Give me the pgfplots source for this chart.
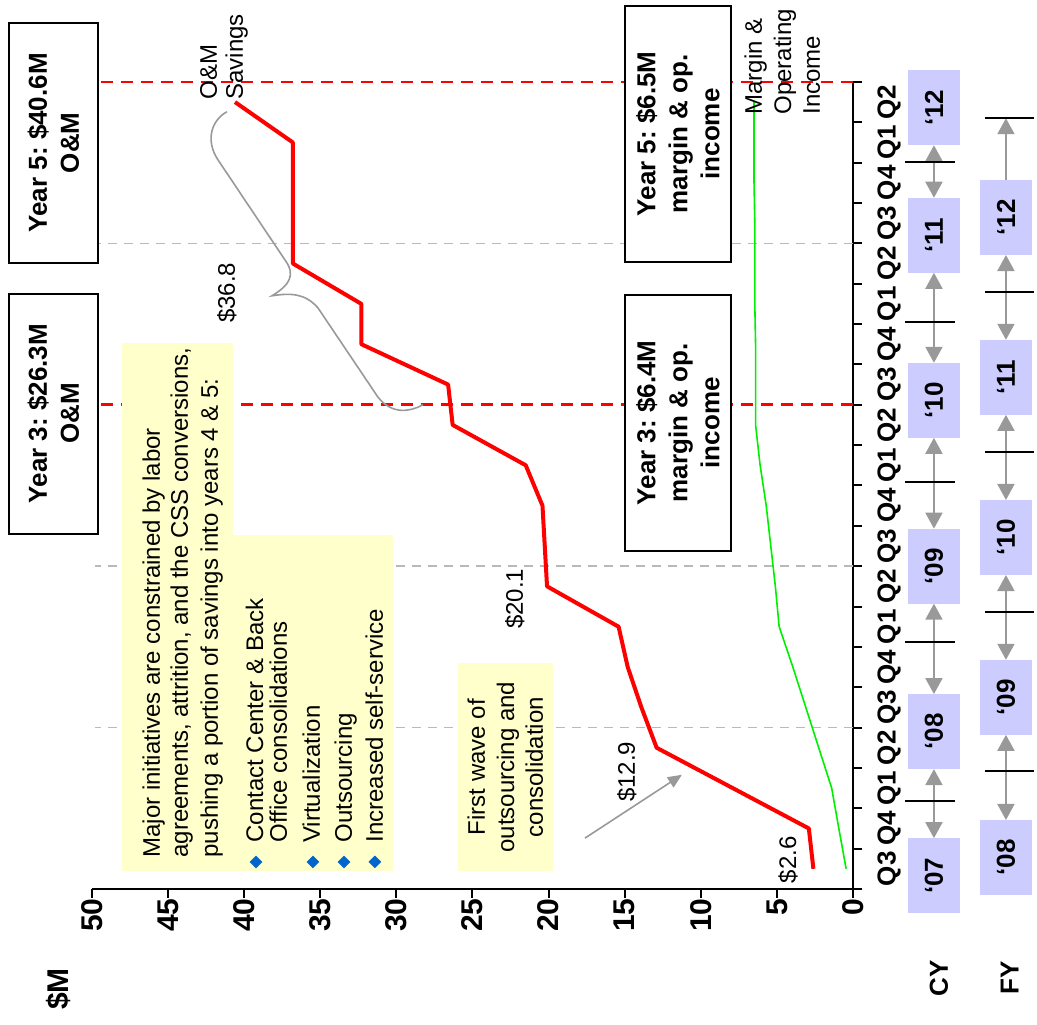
\documentclass[border=0pt]{standalone}
\usepackage{fontspec}
\setmainfont{Liberation Sans}
\usepackage{pgfplots}
\pgfplotsset{compat=1.18}
\usetikzlibrary{arrows.meta,shapes.geometric}

\definecolor{omred}{RGB}{255,0,0}
\definecolor{mgreen}{RGB}{0,240,0}
\definecolor{dashgrey}{RGB}{185,185,185}
\definecolor{notefill}{RGB}{255,255,204}
\definecolor{yearfill}{RGB}{204,204,255}
\definecolor{arrowgrey}{RGB}{153,153,153}
\definecolor{bulletblue}{RGB}{0,102,204}

\newcommand\boxfont{\bfseries\fontsize{13}{16}\selectfont}
\newcommand\notefont{\fontsize{12}{14.5}\selectfont}
\newcommand\tickfont{\bfseries\fontsize{15}{15}\selectfont}
\newcommand\qfont{\bfseries\fontsize{13}{13}\selectfont}
\frenchspacing

\tikzset{
  vtext/.style={rotate=90, inner sep=0pt},
  yearbox/.style={fill=yearfill, draw=none},
  span/.style={arrowgrey, line width=1pt, {Triangle[length=8pt,width=8.5pt]}-{Triangle[length=8pt,width=8.5pt]}},
  yearline/.style={black, line width=1pt},
}

\begin{document}
\begin{tikzpicture}
\begin{axis}[
  scale only axis, width=380.5pt, height=403.5pt,
  xmin=0, xmax=50, ymin=0, ymax=20,
  x dir=reverse,
  axis x line=bottom, axis y line=right,
  axis line style={line width=1pt, -},
  xtick={0,5,...,50},
  ytick=\empty,
  xtick align=outside,
  major tick length=4.5pt,
  tick style={line width=1pt, black},
  /pgf/number format/assume math mode=true,
  xticklabel style={rotate=90, anchor=east, inner sep=0pt, font=\tickfont},
  clip=false,
]

% quarter and year guide lines
\draw[dashgrey, line width=0.8pt, dash pattern=on 4.5pt off 3.5pt] (axis cs:0,4) -- (axis cs:49.8,4);
\draw[dashgrey, line width=0.8pt, dash pattern=on 4.5pt off 3.5pt] (axis cs:0,8) -- (axis cs:49.8,8);
\draw[dashgrey, line width=0.8pt, dash pattern=on 4.5pt off 3.5pt] (axis cs:0,16) -- (axis cs:49.8,16);
\draw[omred, line width=1.3pt, dash pattern=on 6pt off 4pt] (axis cs:0,12) -- (axis cs:49.6,12);
\draw[omred, line width=1.3pt, dash pattern=on 6pt off 4pt] (axis cs:0,20) -- (axis cs:49.6,20);

% quarter boundary ticks on the time axis
\pgfplotsinvokeforeach{0,...,20}{
  \draw[black, line width=1pt] (axis cs:0,#1) -- ++(4.5pt,0);
}

% note backgrounds
\fill[notefill] (axis cs:48.03,0.446) rectangle (axis cs:40.74,13.53);
\fill[notefill] (axis cs:40.74,0.446) rectangle (axis cs:30.22,8.77);
\fill[notefill] (axis cs:25.95,0.446) rectangle (axis cs:19.71,5.60);

% summary boxes
\draw[line width=1.2pt, fill=white] (axis cs:55.45,15.51) rectangle (axis cs:49.6,21.46);
\draw[line width=1.2pt, fill=white] (axis cs:55.45,8.80) rectangle (axis cs:49.6,14.75);
\draw[line width=1.2pt, fill=white] (axis cs:14.98,15.54) rectangle (axis cs:8.02,21.88);
\draw[line width=1.2pt, fill=white] (axis cs:14.98,8.38) rectangle (axis cs:8.02,14.72);
\node[vtext, align=center, font=\boxfont] at (axis cs:52.53,18.49) {Year 5: \$40.6M\\O\&M};
\node[vtext, align=center, font=\boxfont] at (axis cs:52.53,11.78) {Year 3: \$26.3M\\O\&M};
\node[vtext, align=center, font=\boxfont] at (axis cs:11.5,18.71) {Year 5: \$6.5M\\margin \& op.\\income};
\node[vtext, align=center, font=\boxfont] at (axis cs:11.5,11.55) {Year 3: \$6.4M\\margin \& op.\\income};

% cumulative O&M savings ($M) by quarter
\addplot[omred, line width=2pt, line join=round] coordinates {
  (2.6,0.5) (2.9,1.5) (7.9,2.5) (12.9,3.5) (13.9,4.5) (14.8,5.5) (15.4,6.5)
  (20.1,7.5) (20.25,8.5) (20.4,9.5) (21.5,10.5) (26.3,11.5) (26.6,12.5)
  (32.3,13.5) (32.3,14.5) (36.8,15.5) (36.8,16.5) (36.8,17.5) (36.8,18.5)
  (40.6,19.5)
};
% cumulative margin and operating income ($M) by quarter
\addplot[mgreen, line width=0.8pt, line join=round] coordinates {
  (0.45,0.5) (0.93,1.5) (1.4,2.5) (2.25,3.5) (3.1,4.5) (3.95,5.5) (4.85,6.5)
  (5.1,7.5) (5.4,8.5) (5.7,9.5) (6.1,10.5) (6.4,11.5) (6.4,12.5) (6.4,13.5)
  (6.45,14.5) (6.45,15.5) (6.45,16.5) (6.5,17.5) (6.5,18.5) (6.5,19.5)
};

% value call-outs
\node[vtext, font=\notefont] at (axis cs:4.27,0.72) {\$2.6};
\node[vtext, font=\notefont] at (axis cs:14.85,2.90) {\$12.9};
\node[vtext, font=\notefont] at (axis cs:22.21,7.19) {\$20.1};
\node[vtext, font=\notefont] at (axis cs:41.13,14.77) {\$36.8};
\draw[arrowgrey, line width=0.8pt, -{Triangle[length=7pt,width=6pt]}] (axis cs:17.61,1.26) -- (axis cs:11.24,2.83);
\draw[arrowgrey, line width=0.8pt]
  (axis cs:28.25,12.0) .. controls (axis cs:29.11,11.82) and (axis cs:30.29,11.75) .. (axis cs:31.21,12.19)
  -- (axis cs:35.15,14.40) .. controls (axis cs:36.0,14.77) and (axis cs:36.99,14.77) .. (axis cs:38.17,14.70)
  .. controls (axis cs:36.99,14.97) and (axis cs:36.60,15.22) .. (axis cs:37.32,15.59)
  -- (axis cs:41.72,18.07) .. controls (axis cs:42.58,18.56) and (axis cs:42.12,19.06) .. (axis cs:41.13,19.26);

% series names
\node[vtext, anchor=base west, font=\notefont] at (axis cs:41.79,19.55) {O\&M};
\node[vtext, anchor=base west, font=\notefont] at (axis cs:40.08,19.55) {Savings};
\node[vtext, anchor=base west, font=\notefont] at (axis cs:5.98,19.18) {Margin \&};
\node[vtext, anchor=base west, font=\notefont] at (axis cs:4.07,19.18) {Operating};
\node[vtext, anchor=base west, font=\notefont] at (axis cs:2.17,19.18) {Income};

% initiative notes
\node[vtext, anchor=base west, font=\notefont] at (axis cs:45.53,0.77) {Major initiatives are constrained by labor};
\node[vtext, anchor=base west, font=\notefont] at (axis cs:43.69,0.77) {agreements, attrition, and the CSS conversions,};
\node[vtext, anchor=base west, font=\notefont] at (axis cs:41.72,0.77) {pushing a portion of savings into years 4 \& 5:};
\node[vtext, anchor=base west, font=\notefont] at (axis cs:38.76,1.14) {Contact Center \& Back};
\node[vtext, anchor=base west, font=\notefont] at (axis cs:37.19,1.14) {Office consolidations};
\node[vtext, anchor=base west, font=\notefont] at (axis cs:35.02,1.14) {Virtualization};
\node[vtext, anchor=base west, font=\notefont] at (axis cs:32.92,1.14) {Outsourcing};
\node[vtext, anchor=base west, font=\notefont] at (axis cs:30.88,1.14) {Increased self-service};
\node[diamond, fill=bulletblue, inner sep=0pt, minimum width=6.5pt, minimum height=6.5pt] at (axis cs:39.22,0.67) {};
\node[diamond, fill=bulletblue, inner sep=0pt, minimum width=6.5pt, minimum height=6.5pt] at (axis cs:35.48,0.67) {};
\node[diamond, fill=bulletblue, inner sep=0pt, minimum width=6.5pt, minimum height=6.5pt] at (axis cs:33.44,0.67) {};
\node[diamond, fill=bulletblue, inner sep=0pt, minimum width=6.5pt, minimum height=6.5pt] at (axis cs:31.41,0.67) {};
\node[vtext, anchor=base, font=\notefont] at (axis cs:24.18,3.02) {First wave of};
\node[vtext, anchor=base, font=\notefont] at (axis cs:22.27,3.02) {outsourcing and};
\node[vtext, anchor=base, font=\notefont] at (axis cs:20.37,3.02) {consolidation};

% quarter labels
\node[vtext, font=\qfont] at (axis cs:-2.37,0.5) {Q3};
\node[vtext, font=\qfont] at (axis cs:-2.37,1.5) {Q4};
\node[vtext, font=\qfont] at (axis cs:-2.37,2.5) {Q1};
\node[vtext, font=\qfont] at (axis cs:-2.37,3.5) {Q2};
\node[vtext, font=\qfont] at (axis cs:-2.37,4.5) {Q3};
\node[vtext, font=\qfont] at (axis cs:-2.37,5.5) {Q4};
\node[vtext, font=\qfont] at (axis cs:-2.37,6.5) {Q1};
\node[vtext, font=\qfont] at (axis cs:-2.37,7.5) {Q2};
\node[vtext, font=\qfont] at (axis cs:-2.37,8.5) {Q3};
\node[vtext, font=\qfont] at (axis cs:-2.37,9.5) {Q4};
\node[vtext, font=\qfont] at (axis cs:-2.37,10.5) {Q1};
\node[vtext, font=\qfont] at (axis cs:-2.37,11.5) {Q2};
\node[vtext, font=\qfont] at (axis cs:-2.37,12.5) {Q3};
\node[vtext, font=\qfont] at (axis cs:-2.37,13.5) {Q4};
\node[vtext, font=\qfont] at (axis cs:-2.37,14.5) {Q1};
\node[vtext, font=\qfont] at (axis cs:-2.37,15.5) {Q2};
\node[vtext, font=\qfont] at (axis cs:-2.37,16.5) {Q3};
\node[vtext, font=\qfont] at (axis cs:-2.37,17.5) {Q4};
\node[vtext, font=\qfont] at (axis cs:-2.37,18.5) {Q1};
\node[vtext, font=\qfont] at (axis cs:-2.37,19.5) {Q2};

% calendar years
\fill[yearbox] (axis cs:-3.61,-0.60) rectangle (axis cs:-7.03,1.26);
\fill[yearbox] (axis cs:-3.61,2.97) rectangle (axis cs:-7.03,4.83);
\fill[yearbox] (axis cs:-3.61,7.07) rectangle (axis cs:-7.03,8.93);
\fill[yearbox] (axis cs:-3.61,11.18) rectangle (axis cs:-7.03,13.04);
\fill[yearbox] (axis cs:-3.61,15.27) rectangle (axis cs:-7.03,17.13);
\fill[yearbox] (axis cs:-3.61,18.43) rectangle (axis cs:-7.03,20.29);
\node[vtext, font=\qfont] at (axis cs:-5.32,0.33) {‘07};
\node[vtext, font=\qfont] at (axis cs:-5.32,3.90) {‘08};
\node[vtext, font=\qfont] at (axis cs:-5.32,8.00) {‘09};
\node[vtext, font=\qfont] at (axis cs:-5.32,12.11) {‘10};
\node[vtext, font=\qfont] at (axis cs:-5.32,16.20) {‘11};
\node[vtext, font=\qfont] at (axis cs:-5.32,19.36) {‘12};
\draw[span] (axis cs:-5.32,1.26) -- (axis cs:-5.32,2.97);
\draw[span] (axis cs:-5.32,4.83) -- (axis cs:-5.32,7.07);
\draw[span] (axis cs:-5.32,8.93) -- (axis cs:-5.32,11.18);
\draw[span] (axis cs:-5.32,13.04) -- (axis cs:-5.32,15.27);
\draw[span] (axis cs:-5.32,17.13) -- (axis cs:-5.32,18.43);
\draw[yearline] (axis cs:-3.42,2.18) -- (axis cs:-6.70,2.18);
\draw[yearline] (axis cs:-3.42,6.12) -- (axis cs:-6.70,6.12);
\draw[yearline] (axis cs:-3.42,10.09) -- (axis cs:-6.70,10.09);
\draw[yearline] (axis cs:-3.42,14.05) -- (axis cs:-6.70,14.05);
\draw[yearline] (axis cs:-3.42,18.02) -- (axis cs:-6.70,18.02);

% fiscal years
\fill[yearbox] (axis cs:-8.34,-0.15) rectangle (axis cs:-11.76,1.71);
\fill[yearbox] (axis cs:-8.34,3.82) rectangle (axis cs:-11.76,5.68);
\fill[yearbox] (axis cs:-8.34,7.78) rectangle (axis cs:-11.76,9.64);
\fill[yearbox] (axis cs:-8.34,11.75) rectangle (axis cs:-11.76,13.61);
\fill[yearbox] (axis cs:-8.34,15.71) rectangle (axis cs:-11.76,17.57);
\node[vtext, font=\qfont] at (axis cs:-10.05,0.78) {‘08};
\node[vtext, font=\qfont] at (axis cs:-10.05,4.75) {‘09};
\node[vtext, font=\qfont] at (axis cs:-10.05,8.71) {‘10};
\node[vtext, font=\qfont] at (axis cs:-10.05,12.68) {‘11};
\node[vtext, font=\qfont] at (axis cs:-10.05,16.64) {‘12};
\draw[span] (axis cs:-10.05,1.71) -- (axis cs:-10.05,3.82);
\draw[span] (axis cs:-10.05,5.68) -- (axis cs:-10.05,7.78);
\draw[span] (axis cs:-10.05,9.64) -- (axis cs:-10.05,11.75);
\draw[span] (axis cs:-10.05,13.61) -- (axis cs:-10.05,15.71);
\draw[arrowgrey, line width=1pt, -{Triangle[length=8pt,width=8.5pt]}] (axis cs:-10.05,17.57) -- (axis cs:-10.05,19.1);
\draw[yearline] (axis cs:-8.67,2.92) -- (axis cs:-11.9,2.92);
\draw[yearline] (axis cs:-8.67,6.86) -- (axis cs:-11.9,6.86);
\draw[yearline] (axis cs:-8.67,10.83) -- (axis cs:-11.9,10.83);
\draw[yearline] (axis cs:-8.67,14.8) -- (axis cs:-11.9,14.8);
\draw[yearline] (axis cs:-8.67,19.1) -- (axis cs:-11.9,19.1);

% axis and row titles
\node[vtext, font=\bfseries\fontsize{15}{15}\selectfont] at (axis cs:52.23,-2.48) {\$M};
\node[vtext, font=\qfont] at (axis cs:-5.65,-2.21) {CY};
\node[vtext, font=\qfont] at (axis cs:-10.3,-2.21) {FY};

\coordinate (bbA) at (axis cs:56.04,22.03);
\coordinate (bbB) at (axis cs:-12.09,-3.37);
\end{axis}
\pgfresetboundingbox
\path[use as bounding box] (bbA) rectangle (bbB);
\end{tikzpicture}
\end{document}
